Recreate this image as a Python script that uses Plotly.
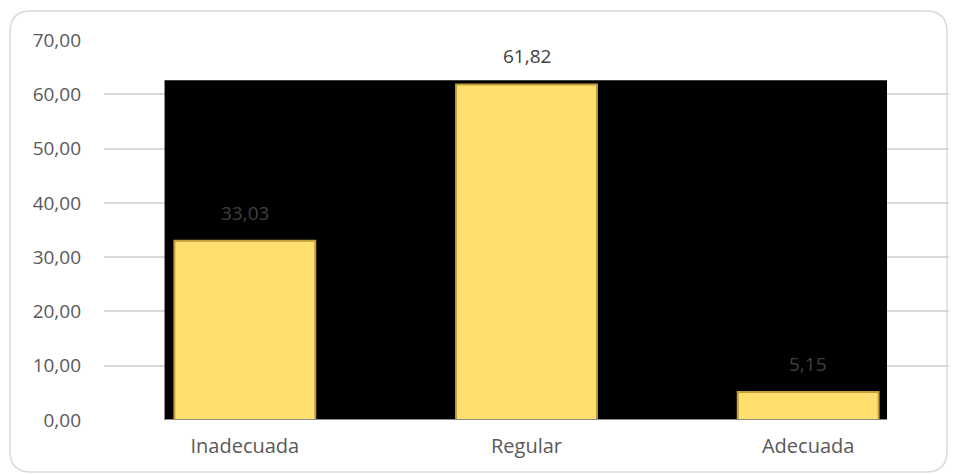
import plotly.graph_objects as go

categories = ["Inadecuada", "Regular", "Adecuada"]
values = [33.03, 61.82, 5.15]
labels = ["33,03", "61,82", "5,15"]
label_colors = ["#404040", "#404040", "#404040"]
y_ticks = [0, 10, 20, 30, 40, 50, 60, 70]
y_tick_text = ["0,00", "10,00", "20,00", "30,00", "40,00", "50,00", "60,00", "70,00"]

OFF = 8  # page body margin
W, H = 957 - OFF, 475 - OFF
ML, MR, MT, MB = 104 - OFF, 16 - OFF, 40 - OFF, 55
pw, ph = W - ML - MR, H - MT - MB

def px_x(p):
    return (p - OFF - ML) / pw

def px_y(p):
    return (H - MB - (p - OFF)) / ph

fig = go.Figure()
fig.add_trace(go.Bar(
    x=categories, y=values, width=0.5,
    marker=dict(color="#FFE06E", line=dict(color="#C29E3C", width=2)),
    hoverinfo="skip",
))

for c, v, t, col in zip(categories, values, labels, label_colors):
    fig.add_annotation(x=c, y=v, text=t, showarrow=False, yshift=28,
                       font=dict(family="Open Sans", size=19, color=col))

shapes = [
    dict(type="rect", xref="x", yref="y", x0=-0.285, x1=2.28, y0=0, y1=62.6,
         fillcolor="black", line=dict(width=0), layer="between"),
    dict(type="line", xref="x", yref="y", x0=-0.285, x1=2.28, y0=0, y1=0,
         line=dict(color="#8C8C8C", width=2), layer="above"),
]

# rounded chart border
x0, x1 = px_x(10), px_x(947)
y0, y1 = px_y(472), px_y(11)
rx, ry = 21 / pw, 21 / ph
path = (f"M {x0+rx},{y1} L {x1-rx},{y1} Q {x1},{y1} {x1},{y1-ry} "
        f"L {x1},{y0+ry} Q {x1},{y0} {x1-rx},{y0} L {x0+rx},{y0} "
        f"Q {x0},{y0} {x0},{y0+ry} L {x0},{y1-ry} Q {x0},{y1} {x0+rx},{y1} Z")
shapes.append(dict(type="path", xref="paper", yref="paper", path=path,
                   line=dict(color="#D9D9D9", width=1.5), layer="below"))

fig.update_layout(
    width=W, height=H,
    margin=dict(l=ML, r=MR, t=MT, b=MB),
    paper_bgcolor="white", plot_bgcolor="white",
    showlegend=False,
    shapes=shapes,
    font=dict(family="Open Sans", size=19, color="#595959"),
    xaxis=dict(range=[-0.5, 2.5], showgrid=False, zeroline=False, showline=False,
               ticks="", ticklabelstandoff=12,
               tickfont=dict(family="Open Sans", size=20, color="#595959")),
    yaxis=dict(range=[0, 70], tickvals=y_ticks, ticktext=y_tick_text,
               showgrid=True, gridcolor="#D9D9D9", gridwidth=1.5,
               zeroline=False, showline=False, ticks="", ticklabelstandoff=22,
               tickfont=dict(family="Open Sans", size=19, color="#595959")),
)

fig.write_html("out.html")
